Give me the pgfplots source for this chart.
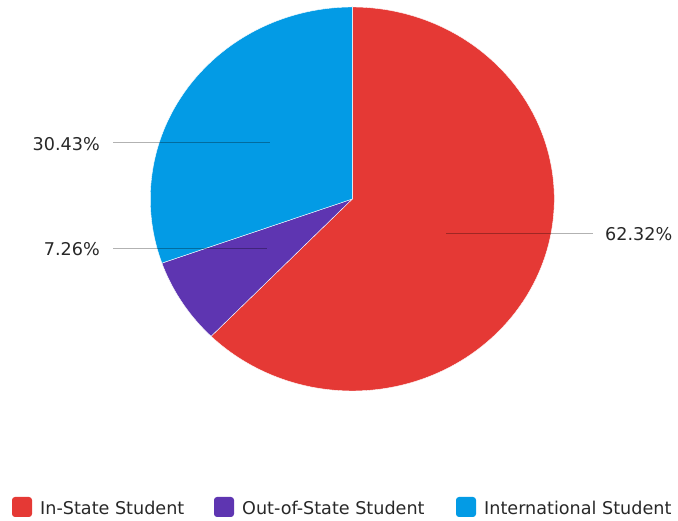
\documentclass[border=0pt]{standalone}
\usepackage{fontspec}
\setmainfont{DejaVu Sans}
\usepackage{pgfplots}
\pgfplotsset{compat=1.18}
\definecolor{cRed}{RGB}{229,57,53}
\definecolor{cPurple}{RGB}{94,53,177}
\definecolor{cBlue}{RGB}{3,155,229}
\definecolor{cText}{RGB}{40,40,40}
% data (percent)
\def\vIn{62.32}
\def\vOut{7.26}
\def\vInt{30.43}
\pgfmathsetmacro{\aA}{90-3.6*\vIn}
\pgfmathsetmacro{\aB}{\aA-3.6*\vOut}
\def\cx{352.3}
\def\cy{322}
\def\rx{202}
\def\ry{192}
\newcommand{\lf}{\fontsize{17.6}{21}\selectfont}
\tikzset{lab/.style={font=\lf, text=cText, inner sep=0pt}}
\begin{document}
\begin{tikzpicture}
\useasboundingbox (0,0) rectangle (678pt,521pt);
\begin{axis}[at={(0,0)}, anchor=south west, scale only axis,
  width=678pt, height=521pt, xmin=0, xmax=678, ymin=0, ymax=521,
  hide axis, clip=false]
\addplot[fill=cRed, draw=white, line width=0.4pt, domain=\aA:90, samples=150, variable=\t]
  ({\cx+\rx*cos(\t)},{\cy+\ry*sin(\t)}) -- (axis cs:\cx,\cy) -- cycle;
\addplot[fill=cPurple, draw=white, line width=0.4pt, domain=\aB:\aA, samples=30, variable=\t]
  ({\cx+\rx*cos(\t)},{\cy+\ry*sin(\t)}) -- (axis cs:\cx,\cy) -- cycle;
\addplot[fill=cBlue, draw=white, line width=0.4pt, domain=-270:\aB, samples=80, variable=\t]
  ({\cx+\rx*cos(\t)},{\cy+\ry*sin(\t)}) -- (axis cs:\cx,\cy) -- cycle;
% leader lines
\addplot[black, opacity=0.3, line width=1pt, no marks] coordinates {(113,378.3) (270,378.3)};
\addplot[black, opacity=0.3, line width=1pt, no marks] coordinates {(113,272.7) (267,272.7)};
\addplot[black, opacity=0.3, line width=1pt, no marks] coordinates {(446,287.7) (593,287.7)};
\node[lab, anchor=east] at (axis cs:100,377) {30.43\%};
\node[lab, anchor=east] at (axis cs:100,271.5) {7.26\%};
\node[lab, anchor=west] at (axis cs:605,286.5) {62.32\%};
% legend
\fill[cRed, rounded corners=3pt] (axis cs:12,4) rectangle (axis cs:32,24);
\fill[cPurple, rounded corners=3pt] (axis cs:214,4) rectangle (axis cs:234,24);
\fill[cBlue, rounded corners=3pt] (axis cs:456,4) rectangle (axis cs:476,24);
\node[lab, anchor=west] at (axis cs:40,13) {In-State Student};
\node[lab, anchor=west] at (axis cs:242,13) {Out-of-State Student};
\node[lab, anchor=west] at (axis cs:484,13) {International Student};
\end{axis}
\end{tikzpicture}
\end{document}
